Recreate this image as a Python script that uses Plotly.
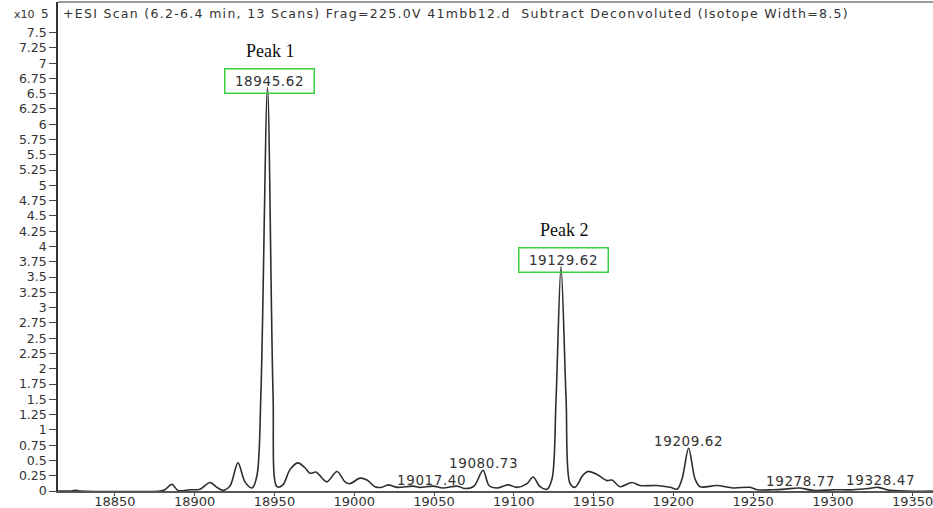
import plotly.graph_objects as go

# Deconvoluted spectrum trace: mass (Da) and intensity (x10^5 counts)
mass = [
    18814.3, 18821.8, 18824.9, 18828.1, 18878.2, 18881.3, 18885.7, 18889.5,
    18897.0, 18903.3, 18909.6, 18913.9, 18917.7, 18922.1, 18927.1, 18931.5,
    18935.9, 18939.0, 18941.5, 18945.62, 18949.1, 18951.6, 18955.3, 18959.7,
    18964.7, 18969.1, 18972.3, 18976.0, 18978.5, 18982.9, 18989.2, 18994.2,
    18997.3, 19003.6, 19008.0, 19013.0, 19017.4, 19021.2, 19026.8, 19036.8,
    19041.2, 19049.4, 19055.6, 19064.4, 19069.4, 19075.1, 19080.73, 19084.5,
    19089.5, 19096.4, 19102.0, 19108.3, 19112.1, 19116.5, 19120.8, 19124.0,
    19126.5, 19129.62, 19132.8, 19135.3, 19138.4, 19143.4, 19146.5, 19152.2,
    19158.4, 19161.6, 19166.6, 19174.1, 19179.2, 19189.8, 19198.0, 19202.4,
    19205.5, 19209.62, 19213.6, 19216.8, 19227.4, 19237.5, 19248.1, 19252.5,
    19262.5, 19270.1, 19278.77, 19287.6, 19301.4, 19312.7, 19322.1, 19328.47,
    19335.9, 19362.8,
]
intensity = [
    0.0, 0.0, 0.01, 0.0, 0.0, 0.02, 0.11, 0.01,
    0.02, 0.03, 0.14, 0.06, 0.01, 0.08, 0.46, 0.15,
    0.05, 0.25, 1.6, 6.6, 1.6, 0.07, 0.10, 0.35,
    0.46, 0.38, 0.29, 0.31, 0.25, 0.15, 0.32, 0.15,
    0.12, 0.21, 0.18, 0.07, 0.06, 0.10, 0.06, 0.08,
    0.06, 0.08, 0.05, 0.08, 0.04, 0.08, 0.34, 0.09,
    0.05, 0.10, 0.06, 0.12, 0.23, 0.07, 0.03, 0.20,
    1.5, 3.67, 1.5, 0.12, 0.06, 0.26, 0.32, 0.27,
    0.17, 0.18, 0.07, 0.14, 0.09, 0.09, 0.06, 0.03,
    0.20, 0.70, 0.20, 0.07, 0.09, 0.05, 0.06, 0.02,
    0.02, 0.03, 0.05, 0.01, 0.02, 0.02, 0.04, 0.06,
    0.01, 0.0,
]

# Annotated peaks
label_mass = [19017.40, 19080.73, 19209.62, 19278.77, 19328.47]
label_height = [0.06, 0.34, 0.70, 0.05, 0.06]
label_xshift = [49, 0, 0, 2, 2]

boxed_names = ["Peak 1", "Peak 2"]
boxed_mass = [18945.62, 19129.62]
boxed_height = [6.6, 3.67]

x_ticks = [18850, 18900, 18950, 19000, 19050, 19100, 19150, 19200, 19250, 19300, 19350]
x_ticktext = [str(v) for v in x_ticks]
y_ticks = [i * 0.25 for i in range(31)]
y_ticktext = [format(v, "g") for v in y_ticks]

title_text = ("+ESI Scan (6.2-6.4 min, 13 Scans) Frag=225.0V 41mbb12.d \u00a0Subtract "
              "Deconvoluted (Isotope Width=8.5)")

TEXT = "#333333"
SANS = "DejaVu Sans"


def spaced(s, px):
    return f'<span style="letter-spacing:{px}px">{s}</span>'


fig = go.Figure()
fig.add_trace(go.Scatter(
    x=mass, y=intensity, mode="lines",
    line=dict(color="#2e2e2e", width=1.6, shape="spline", smoothing=0.9),
    hoverinfo="x+y", showlegend=False,
))

annotations = []
for m, h, dx in zip(label_mass, label_height, label_xshift):
    annotations.append(dict(
        x=m, y=h, xref="x", yref="y", text=spaced(f"{m:.2f}", 0.6), showarrow=False,
        xanchor="center", yanchor="middle", xshift=dx, yshift=7,
        font=dict(family=SANS, size=13.5, color=TEXT),
    ))

for name, m, h in zip(boxed_names, boxed_mass, boxed_height):
    annotations.append(dict(
        x=m, y=h, xref="x", yref="y", text=spaced(f"{m:.2f}", 0.6), showarrow=False,
        xanchor="center", yanchor="middle", xshift=2, yshift=7,
        width=86, height=21, borderpad=1, borderwidth=1.5, bordercolor="#3ccf3c",
        font=dict(family=SANS, size=13.5, color=TEXT),
    ))
    annotations.append(dict(
        x=m, y=h, xref="x", yref="y", text=name, showarrow=False,
        xanchor="center", yanchor="middle", xshift=3, yshift=37,
        font=dict(family="Liberation Serif", size=18, color="#111111"),
    ))

annotations.append(dict(
    x=0, y=1, xref="paper", yref="paper", text=spaced(title_text, 1.3), showarrow=False,
    xanchor="left", yanchor="middle", xshift=3, yshift=-11,
    font=dict(family=SANS, size=12.5, color=TEXT),
))
annotations.append(dict(
    x=0, y=1, xref="paper", yref="paper", text="x10", showarrow=False,
    xanchor="right", yanchor="middle", xshift=-21, yshift=-12,
    font=dict(family=SANS, size=11, color=TEXT),
))
annotations.append(dict(
    x=0, y=1, xref="paper", yref="paper", text="5", showarrow=False,
    xanchor="right", yanchor="middle", xshift=-7, yshift=-12,
    font=dict(family=SANS, size=12, color=TEXT),
))

fig.update_layout(
    width=933, height=508,
    margin=dict(l=58, r=0, t=2, b=17, autoexpand=False),
    paper_bgcolor="white", plot_bgcolor="white",
    annotations=annotations,
    shapes=[dict(type="line", xref="paper", yref="paper", x0=0, x1=1, y0=1, y1=1,
                 line=dict(color="#9a9a9a", width=2))],
    xaxis=dict(
        range=[18814.3, 19362.8], tickvals=x_ticks, ticktext=x_ticktext,
        ticks="outside", ticklen=3, automargin=False, ticklabeloverflow="allow",
        ticklabelstandoff=-5,
        tickcolor="#444", showgrid=False, zeroline=False, showline=True,
        linecolor="#555", linewidth=1.5,
        tickfont=dict(family=SANS, size=13, color=TEXT),
    ),
    yaxis=dict(
        range=[0, 8.0], tickvals=y_ticks, ticktext=y_ticktext, ticks="outside",
        ticklen=7, tickcolor="#444", showgrid=False, zeroline=False, showline=True,
        linecolor="#333", linewidth=1.5, automargin=False,
        tickfont=dict(family=SANS, size=12.5, color=TEXT),
    ),
)

fig.write_html("out.html")
